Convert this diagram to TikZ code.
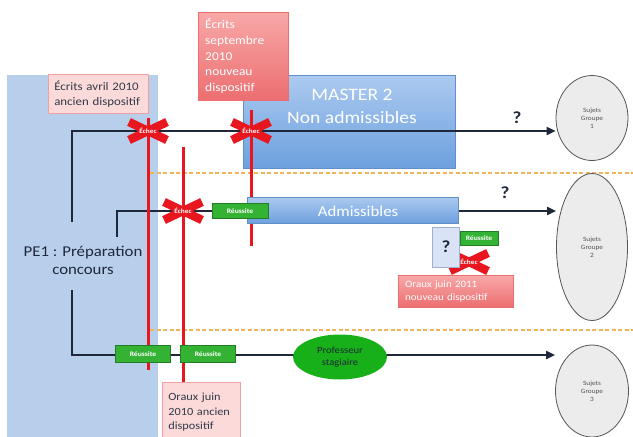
\documentclass[tikz,border=0pt]{standalone}
\usepackage{fontspec}
\setmainfont{Carlito}[FakeStretch=1.12]
\usetikzlibrary{arrows.meta,shapes.geometric}
\definecolor{bgblue}{RGB}{184,207,236}
\definecolor{mtop}{RGB}{172,202,240}
\definecolor{mbot}{RGB}{108,160,222}
\definecolor{pinklt}{RGB}{252,218,218}
\definecolor{pinkbd}{RGB}{240,160,165}
\definecolor{salmtop}{RGB}{248,168,168}
\definecolor{salmbot}{RGB}{236,110,112}
\definecolor{redln}{RGB}{232,22,30}
\definecolor{grn}{RGB}{52,178,52}
\definecolor{grnell}{RGB}{24,176,24}
\definecolor{navy}{RGB}{30,40,58}
\definecolor{orng}{RGB}{242,180,90}
\definecolor{grayfill}{RGB}{236,236,236}
\definecolor{grayline}{RGB}{85,85,85}
\definecolor{qfill}{RGB}{218,226,245}
\definecolor{qline}{RGB}{160,174,208}
\tikzset{
  conn/.style={draw=navy,line width=2pt},
  arr/.style={conn,-{Triangle[length=9pt,width=8pt]}},
  redv/.style={draw=redln,line width=3pt},
  sep/.style={draw=orng,line width=2pt,dash pattern=on 4pt off 2.5pt},
  xline/.style={draw=redln,line width=8.5pt},
  echectxt/.style={fill=redln,text=white,font=\fontsize{6.5}{7}\selectfont\bfseries,inner sep=1pt},
  reuss/.style={fill=grn,text=white,font=\fontsize{6.8}{7.5}\selectfont\bfseries,inner sep=1pt,draw=grn!70!black,line width=0.4pt},
  bluebox/.style={top color=mtop,bottom color=mbot,draw=mbot!90!black,line width=0.4pt,anchor=north west,inner sep=0pt},
  pinkbox/.style={fill=pinklt,draw=pinkbd,line width=0.6pt,anchor=north west,align=left,text=navy!80!gray},
  salmbox/.style={top color=salmtop,bottom color=salmbot,draw=salmbot,line width=0.4pt,anchor=north west,align=left,text=white},
  grp/.style={ellipse,fill=grayfill,draw=grayline,line width=0.8pt,inner sep=0pt,align=center,font=\fontsize{6.5}{8}\selectfont,text=grayline},
  qmark/.style={font=\fontsize{17}{18}\selectfont\bfseries,text=navy}
}
\newcommand{\echecmark}[2]{%
  \draw[xline,shift={(#2)}] (-19,-9) -- (19,9) (-19,9) -- (19,-9);
  \node[echectxt] (#1) at (#2) {Échec};
}
\begin{document}
\begin{tikzpicture}[x=1pt,y=-1pt]
\useasboundingbox (0,0) rectangle (633,437);
\fill[white] (0,0) rectangle (633,437);
% background zone
\node[fill=bgblue,minimum width=151pt,minimum height=362pt,anchor=north west,inner sep=0pt] (zone) at (7,75) {};
% master 2 box
\node[bluebox,minimum width=212pt,minimum height=93pt] (master) at (243,75) {};
\node[text=white,align=center,font=\fontsize{17.5}{23}\selectfont] (mastertxt) at (352,106) {MASTER 2\\Non admissibles};
% pink boxes top
\node[pinkbox,text width=88pt,minimum height=39pt,inner xsep=6pt,inner ysep=2pt,font=\fontsize{11.5}{15}\selectfont] (ecr2010) at (48,74) {Écrits avril 2010\\ancien dispositif};
\node[salmbox,text width=76pt,minimum height=88pt,inner xsep=7pt,inner ysep=2pt,font=\fontsize{12}{15.7}\selectfont] (ecr2011) at (198,12) {Écrits\\septembre\\2010\\nouveau\\dispositif};
% separators
\coordinate (s1a) at (150,173); \coordinate (s1b) at (633,173);
\coordinate (s2a) at (150,330); \coordinate (s2b) at (633,330);
\draw[sep] (s1a) -- (s1b);
\draw[sep] (s2a) -- (s2b);
% group ellipses
\node[grp,minimum width=72pt,minimum height=85pt] (g1) at (592,118) {Sujets\\Groupe\\1};
\node[grp,minimum width=71pt,minimum height=147pt] (g2) at (592,247) {Sujets\\Groupe\\2};
\node[grp,minimum width=73pt,minimum height=92pt] (g3) at (592,391) {Sujets\\Groupe\\3};
% PE1
\node[align=center,font=\fontsize{15}{18}\selectfont,text=navy] (pe1) at (83,260) {PE1 : Préparation\\concours};
\coordinate (l1s) at (72,222);
\coordinate (l2s) at (117,237);
\coordinate (l3s) at (72,290);
% connectors
\draw[arr] (l1s) -- (72,131) -- (g1.west |- 0,131);
\draw[arr] (l2s) -- (117,211) -- (g2.west |- 0,211);
\draw[arr] (l3s) -- (72,355) -- (g3.west |- 0,355);
% red verticals
\coordinate (r1t) at (148,118); \coordinate (r1b) at (148,370);
\coordinate (r2t) at (183,147);
\coordinate (r3t) at (251,110); \coordinate (r3b) at (251,246);
% oraux 2010 box
\node[pinkbox,text width=66pt,minimum height=60pt,inner xsep=6pt,inner ysep=2pt,font=\fontsize{11}{14.5}\selectfont] (or2010) at (162,382) {Oraux juin\\2010 ancien\\dispositif};
\draw[redv] (r1t) -- (r1b);
\draw[redv] (r2t) -- (or2010.north -| r2t);
\draw[redv] (r3t) -- (r3b);
% admissibles box
\node[bluebox,minimum width=211pt,minimum height=26pt] (adm) at (247,197) {};
\node[text=white,font=\fontsize{15}{17}\selectfont] (admtxt) at (358,211) {Admissibles};
% echec marks
\echecmark{e1}{148,131}
\echecmark{e2}{251,131}
\echecmark{e3}{183,211}
% reussite
\node[reuss,minimum width=56pt,minimum height=15pt] (rs1) at (240,211) {Réussite};
\node[reuss,minimum width=55pt,minimum height=17pt] (rs2) at (143,354) {Réussite};
\node[reuss,minimum width=55pt,minimum height=17pt] (rs3) at (208,354) {Réussite};
\node[reuss,minimum width=38pt,minimum height=14pt] (rs4) at (479,238) {Réussite};
\echecmark{e4}{469,262}
% question box
\node[fill=qfill,draw=qline,line width=0.6pt,minimum width=27pt,minimum height=40pt,inner sep=0pt,qmark] (qbox) at (446,247) {?};
% oraux 2011
\node[salmbox,text width=101pt,minimum height=32pt,inner xsep=7pt,inner ysep=2pt,font=\fontsize{9.8}{12.5}\selectfont] (or2011) at (398,275) {Oraux juin 2011\\nouveau dispositif};
% professeur stagiaire
\node[ellipse,fill=grnell,minimum width=94pt,minimum height=45pt,inner sep=0pt,align=center,font=\fontsize{9.5}{12}\selectfont,text=navy] (prof) at (340,357) {Professeur\\stagiaire};
% question marks
\node[qmark] (q1) at (517,118) {?};
\node[qmark] (q2) at (505,193) {?};
\end{tikzpicture}
\end{document}
